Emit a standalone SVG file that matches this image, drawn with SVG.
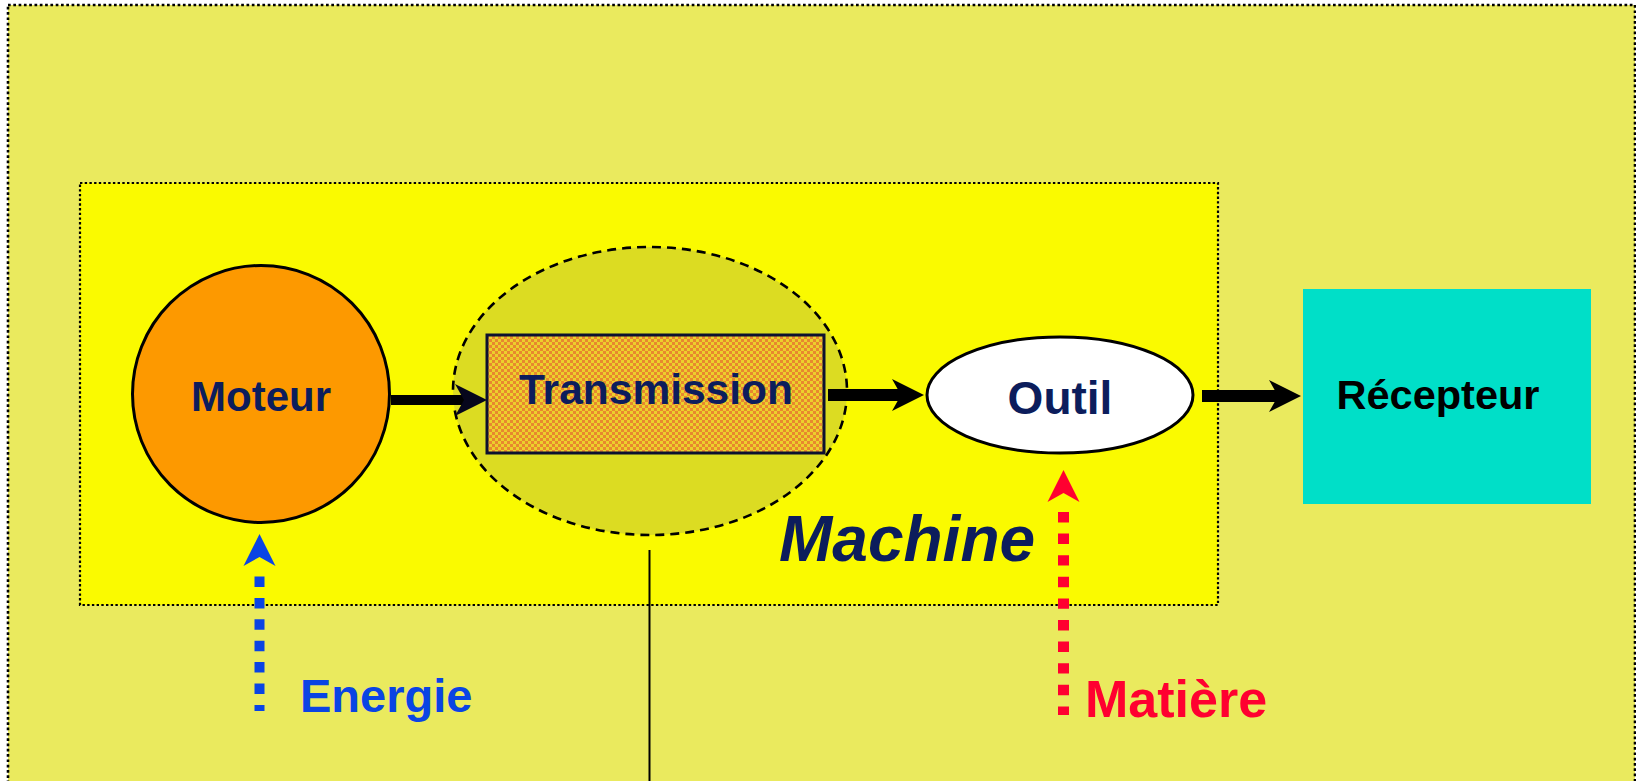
<svg xmlns="http://www.w3.org/2000/svg" xmlns:xlink="http://www.w3.org/1999/xlink" width="1636" height="781" viewBox="0 0 1636 781">
  <style>
    .lbl { font-family: "Liberation Sans", Arial, sans-serif; font-weight: bold; }
    .navy { fill: #0c1d5c; }
    .frame { stroke: #000; }
    .shaft { stroke: #000; fill: none; }
  </style>
  <defs>
    <!-- fine checkerboard used to fill the transmission block -->
    <pattern id="checker" width="6" height="6" patternUnits="userSpaceOnUse">
      <rect width="6" height="6" fill="#ecd02c"/>
      <rect width="3" height="3" fill="#e8882e"/>
      <rect x="3" y="3" width="3" height="3" fill="#e8882e"/>
    </pattern>
    <!-- notched arrowhead, tip at the origin, pointing along +x -->
    <path id="head" d="M0,0 L-32,-16 L-23,0 L-32,16 Z"/>
  </defs>

  <!-- outer frame -->
  <rect x="8" y="5" width="1627" height="800" fill="#eaea5e" class="frame" stroke-width="2.6" stroke-dasharray="2.7 2.6"/>
  <!-- machine boundary -->
  <rect x="80" y="183" width="1138" height="422" fill="#fafa00" class="frame" stroke-width="2.2" stroke-dasharray="2.4 2.3"/>

  <!-- leader line below the transmission zone -->
  <line x1="649.5" y1="550" x2="649.5" y2="781" stroke="#000" stroke-width="2"/>

  <g id="transmission-zone">
    <ellipse cx="650" cy="391" rx="197" ry="144" fill="#dcdc22" stroke="#000" stroke-width="2.6" stroke-dasharray="9 6"/>
  </g>

  <g id="moteur">
    <circle cx="261" cy="394" r="128.5" fill="#fd9900" stroke="#000" stroke-width="3"/>
    <text class="lbl navy" x="261" y="411" font-size="42" text-anchor="middle">Moteur</text>
  </g>

  <g id="transmission">
    <rect x="487" y="335" width="337" height="118" fill="url(#checker)" stroke="#0c1030" stroke-width="3"/>
    <text class="lbl navy" x="656" y="404" font-size="42.5" text-anchor="middle">Transmission</text>
  </g>

  <g id="outil">
    <ellipse cx="1060" cy="395" rx="133" ry="58" fill="#fff" stroke="#000" stroke-width="3"/>
    <text class="lbl navy" x="1060" y="414" font-size="46" text-anchor="middle">Outil</text>
  </g>

  <g id="recepteur">
    <rect x="1303" y="289" width="288" height="215" fill="#00dfc8"/>
    <text class="lbl" x="1438" y="409" font-size="41.5" text-anchor="middle" fill="#000">Récepteur</text>
  </g>

  <g id="machine-label">
    <text class="lbl navy" x="779" y="561" font-size="64" font-style="italic">Machine</text>
  </g>

  <g id="connectors">
    <!-- Moteur to Transmission -->
    <line class="shaft" x1="391" y1="400" x2="464" y2="400" stroke-width="10"/>
    <use xlink:href="#head" transform="translate(487,400)" fill="#06061c"/>
    <!-- Transmission to Outil -->
    <line class="shaft" x1="828" y1="395" x2="901" y2="395" stroke-width="12"/>
    <use xlink:href="#head" transform="translate(924,395)" fill="#000"/>
    <!-- Outil to Récepteur -->
    <line class="shaft" x1="1202" y1="396" x2="1278" y2="396" stroke-width="12"/>
    <use xlink:href="#head" transform="translate(1301,396)" fill="#000"/>
    <!-- energy input -->
    <line x1="259.5" y1="576.5" x2="259.5" y2="711" stroke="#0a44e4" stroke-width="10" stroke-dasharray="10.5 10.9"/>
    <use xlink:href="#head" transform="translate(259.5,534) rotate(-90)" fill="#0a44e4"/>
    <!-- material input -->
    <line x1="1063.5" y1="512" x2="1063.5" y2="715" stroke="#ff0030" stroke-width="11" stroke-dasharray="10.4 11.2"/>
    <use xlink:href="#head" transform="translate(1063.5,470) rotate(-90)" fill="#ff0030"/>
  </g>

  <g id="energie">
    <text class="lbl" x="300" y="712" font-size="47" fill="#0a44e4">Energie</text>
  </g>
  <g id="matiere">
    <text class="lbl" x="1085" y="716.5" font-size="52" fill="#ff0030">Matière</text>
  </g>
</svg>
